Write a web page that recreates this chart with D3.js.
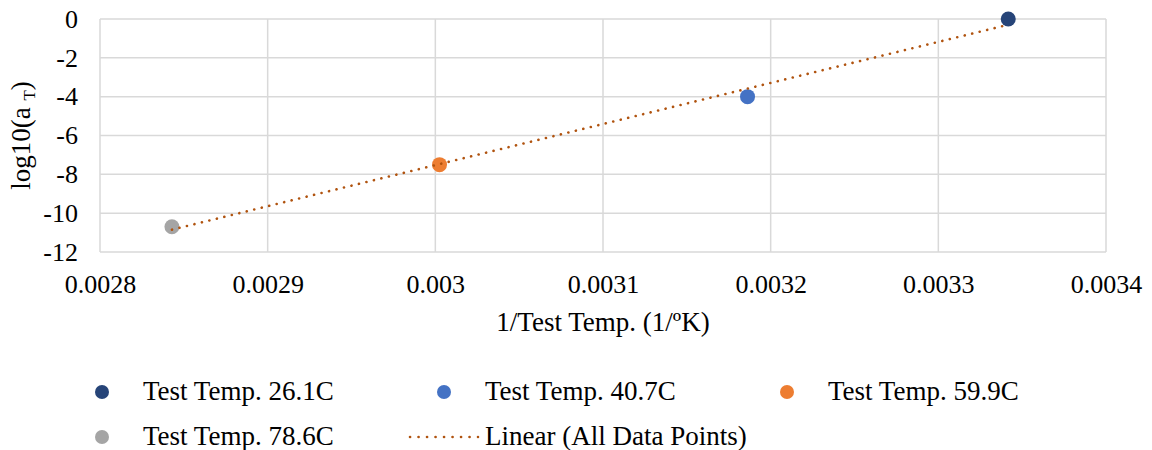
<!DOCTYPE html>
<html>
<head>
<meta charset="utf-8">
<script src="https://cdn.jsdelivr.net/npm/d3@7"></script>
<style>
  body { margin: 0; background: #fff; }
  svg text { font-family: "Liberation Serif", "Times New Roman", serif; fill: #000; }
</style>
</head>
<body>
<svg id="chart" width="1152" height="450"></svg>
<script>
// data
var seriesNames = ["Test Temp. 26.1C", "Test Temp. 40.7C", "Test Temp. 59.9C", "Test Temp. 78.6C"];
var seriesColors = ["#264478", "#4472C4", "#ED7D31", "#A5A5A5"];
var invTemp = [0.0033417, 0.0031862, 0.0030025, 0.0028429];
var logAT = [0, -4.0, -7.5, -10.7];
var xTicks = [0.0028, 0.0029, 0.003, 0.0031, 0.0032, 0.0033, 0.0034];
var yTicks = [0, -2, -4, -6, -8, -10, -12];
var trendName = "Linear (All Data Points)";
var trendColor = "#B0530F";

var svg = d3.select("#chart");
var margin = {top: 19, right: 46, bottom: 198, left: 100},
    width = 1152 - margin.left - margin.right,
    height = 450 - margin.top - margin.bottom;

var x = d3.scaleLinear().domain([0.0028, 0.0034]).range([0, width]);
var y = d3.scaleLinear().domain([-12, 0]).range([height, 0]);

var g = svg.append("g")
    .attr("transform", "translate(" + margin.left + "," + margin.top + ")");

// grid
g.append("g").selectAll("line")
    .data(yTicks)
    .enter().append("line")
    .attr("x1", 0).attr("x2", width)
    .attr("y1", function(d) { return y(d); })
    .attr("y2", function(d) { return y(d); })
    .attr("stroke", "#d9d9d9").attr("stroke-width", 1.5);

g.append("g").selectAll("line")
    .data(xTicks)
    .enter().append("line")
    .attr("y1", 0).attr("y2", height)
    .attr("x1", function(d) { return x(d); })
    .attr("x2", function(d) { return x(d); })
    .attr("stroke", "#d9d9d9").attr("stroke-width", 1.5);

// axes (labels only)
var xAxis = g.append("g")
    .attr("transform", "translate(0," + height + ")")
    .call(d3.axisBottom(x).tickValues(xTicks).tickSize(0)
      .tickFormat(function(d) { return String(+d.toFixed(4)); }));
xAxis.select(".domain").remove();
xAxis.selectAll("text")
    .attr("y", 41).attr("dy", null)
    .style("font-size", "26px");

var yAxis = g.append("g")
    .call(d3.axisLeft(y).tickValues(yTicks).tickSize(0).tickPadding(22)
      .tickFormat(function(d) { return d < 0 ? "-" + Math.abs(d) : String(d); }));
yAxis.select(".domain").remove();
yAxis.selectAll("text").style("font-size", "26px");

// axis titles
svg.append("text")
    .attr("x", margin.left + width / 2)
    .attr("y", 331)
    .attr("text-anchor", "middle")
    .style("font-size", "27px")
    .text("1/Test Temp. (1/\u00BAK)");

var yt = svg.append("text")
    .attr("transform", "translate(30," + (margin.top + height / 2) + ") rotate(-90)")
    .attr("text-anchor", "middle")
    .style("font-size", "27px");
yt.append("tspan").text("log10(a ");
yt.append("tspan").attr("dy", 5).style("font-size", "17px").text("T");
yt.append("tspan").attr("dy", -5).text(")");

// linear trendline through all points
var mx = d3.mean(invTemp), my = d3.mean(logAT);
var sxy = d3.sum(invTemp, function(v, i) { return (v - mx) * (logAT[i] - my); });
var sxx = d3.sum(invTemp, function(v) { return (v - mx) * (v - mx); });
var slope = sxy / sxx, icpt = my - slope * mx;
var xr = d3.extent(invTemp);

// points
g.append("g").selectAll("circle")
    .data(invTemp)
    .enter().append("circle")
    .attr("cx", function(d) { return x(d); })
    .attr("cy", function(d, i) { return y(logAT[i]); })
    .attr("r", 7.5)
    .attr("fill", function(d, i) { return seriesColors[i]; });

// trendline sits on top of the markers
g.append("line")
    .attr("x1", x(xr[0])).attr("y1", y(slope * xr[0] + icpt))
    .attr("x2", x(xr[1])).attr("y2", y(slope * xr[1] + icpt))
    .attr("stroke", trendColor)
    .attr("stroke-width", 2.6)
    .attr("stroke-linecap", "round")
    .attr("stroke-dasharray", "0.1,7.6");

// legend
var legendItems = seriesNames.map(function(n, i) { return {name: n, color: seriesColors[i], type: "dot"}; });
legendItems.push({name: trendName, color: trendColor, type: "line"});
var colX = [102, 444, 787], rowY = [392, 437];

var leg = svg.append("g").selectAll("g")
    .data(legendItems)
    .enter().append("g")
    .attr("transform", function(d, i) {
      return "translate(" + colX[i % 3] + "," + rowY[Math.floor(i / 3)] + ")";
    });

leg.filter(function(d) { return d.type === "dot"; })
    .append("circle").attr("r", 7).attr("fill", function(d) { return d.color; });

leg.filter(function(d) { return d.type === "line"; })
    .append("line")
    .attr("x1", -34).attr("x2", 34)
    .attr("stroke", function(d) { return d.color; })
    .attr("stroke-width", 2.6)
    .attr("stroke-linecap", "round")
    .attr("stroke-dasharray", "0.1,8.4");

leg.append("text")
    .attr("x", 41)
    .attr("dy", "0.28em")
    .style("font-size", "27px")
    .text(function(d) { return d.name; });
</script>
</body>
</html>
